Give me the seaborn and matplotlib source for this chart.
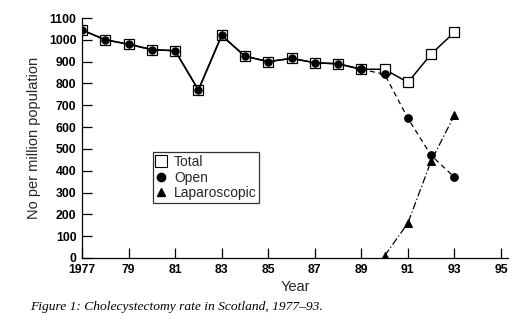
import matplotlib
matplotlib.use("Agg")
import matplotlib.pyplot as plt
import seaborn as sns
import pandas as pd
from matplotlib.lines import Line2D

sns.set_theme(style="ticks")
plt.rcParams['font.family'] = ['Liberation Sans', 'DejaVu Sans']

years = list(range(1977, 1994))
total = [1045, 1000, 980, 955, 950, 770, 1020, 925, 900, 915, 895, 890, 865,
         865, 805, 935, 1035]
open_ = [1045, 1000, 980, 955, 950, 770, 1020, 925, 900, 915, 895, 890, 865,
         842, 640, 470, 370]
lap_years = [1990, 1991, 1992, 1993]
laparoscopic = [10, 160, 445, 655]

x_ticks = list(range(1977, 1996, 2))
x_ticklabels = ["1977", "79", "81", "83", "85", "87", "89", "91", "93", "95"]
y_ticks = list(range(0, 1101, 100))

df_total = pd.DataFrame({"Year": years, "Rate": total})
df_open_early = pd.DataFrame({"Year": years[:13], "Rate": open_[:13]})
df_open_late = pd.DataFrame({"Year": years[12:], "Rate": open_[12:]})
df_lap = pd.DataFrame({"Year": lap_years, "Rate": laparoscopic})

fig = plt.figure(figsize=(5.31, 3.25), dpi=100)
ax = fig.add_axes([0.1544, 0.2062, 0.8023, 0.7384])

# Laparoscopic: dash-dot line with filled triangles
sns.lineplot(data=df_lap, x="Year", y="Rate", ax=ax, color="black", lw=0.9,
             linestyle=(0, (6, 2, 1, 2)), marker="^", markersize=6,
             markerfacecolor="black", markeredgecolor="black", zorder=2)
# Open after 1989: dashed
sns.lineplot(data=df_open_late, x="Year", y="Rate", ax=ax, color="black", lw=0.9,
             linestyle=(0, (4, 3)), marker=None, zorder=2)
# Total: solid line with open squares
sns.lineplot(data=df_total, x="Year", y="Rate", ax=ax, color="black", lw=1.1,
             marker="s", markersize=7.5, markerfacecolor="white",
             markeredgecolor="black", markeredgewidth=0.9, zorder=3)
# Open up to 1989: solid with filled circles
sns.lineplot(data=df_open_early, x="Year", y="Rate", ax=ax, color="black", lw=1.1,
             marker="o", markersize=5.3, markerfacecolor="black",
             markeredgecolor="black", zorder=4)
ax.plot(df_open_late["Year"], df_open_late["Rate"], linestyle="none", marker="o",
        markersize=5.3, color="black", zorder=4)

ax.set_xlim(1977, 1995.3)
ax.set_ylim(0, 1100)
ax.set_xticks(x_ticks)
ax.set_xticklabels(x_ticklabels)
ax.set_yticks(y_ticks)
ax.tick_params(axis="both", direction="in", length=7, width=0.9,
               labelsize=8.8, colors="black")
ax.tick_params(axis="x", pad=4.5)
ax.tick_params(axis="y", pad=4)
for lab in ax.get_xticklabels() + ax.get_yticklabels():
    lab.set_fontweight("bold")
ax.spines["top"].set_visible(False)
ax.spines["right"].set_visible(False)
for s in ("left", "bottom"):
    ax.spines[s].set_linewidth(0.9)
    ax.spines[s].set_color("black")

ax.set_xlabel("Year", fontsize=10.5, labelpad=3)
ax.set_ylabel("No per million population", fontsize=10.5, labelpad=6)

handles = [
    Line2D([], [], linestyle="none", marker="s", markersize=8,
           markerfacecolor="white", markeredgecolor="black", markeredgewidth=0.8),
    Line2D([], [], linestyle="none", marker="o", markersize=6, color="black"),
    Line2D([], [], linestyle="none", marker="^", markersize=6, color="black"),
]
leg = ax.legend(handles, ["Total", "Open", "Laparoscopic"], loc="upper left",
                bbox_to_anchor=(0.167, 0.44), fontsize=10, frameon=True,
                fancybox=False, handlelength=0.8, handletextpad=0.5,
                labelspacing=0.1, borderpad=0.2, borderaxespad=0)
leg.get_frame().set_edgecolor("black")
leg.get_frame().set_linewidth(0.9)

fig.text(0.057, 0.045, "Figure 1: Cholecystectomy rate in Scotland, 1977\u201393.",
         family="Liberation Serif", style="italic", fontsize=9.7, color="black")

fig.savefig("out.png", dpi=100, facecolor="white")
